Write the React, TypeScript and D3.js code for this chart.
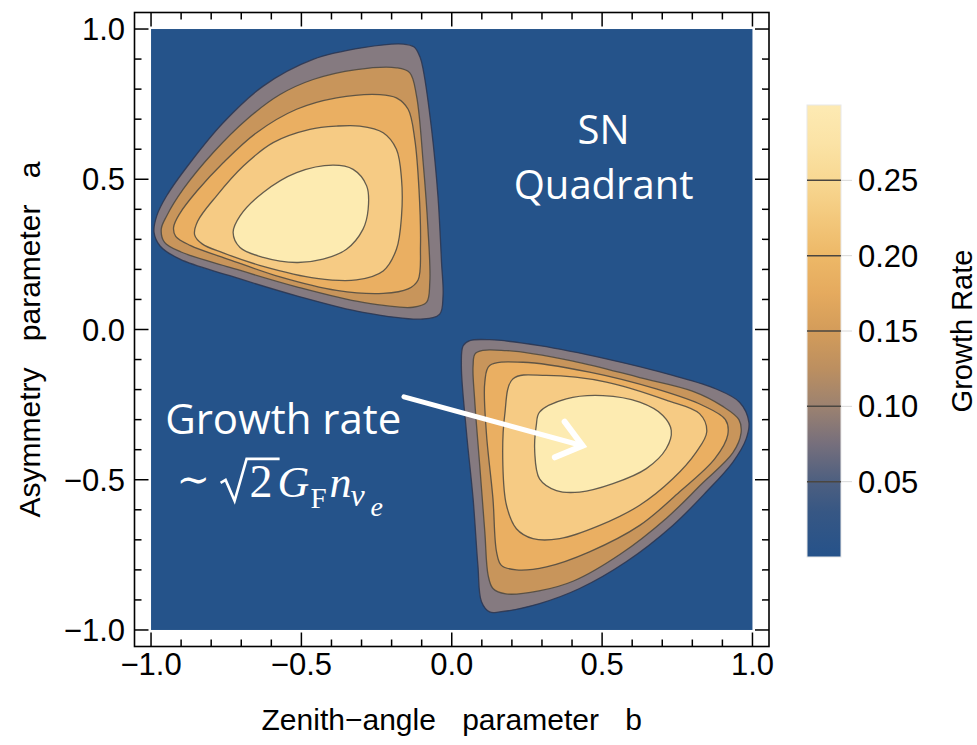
import * as d3 from 'd3'
import { useEffect, useRef } from 'react'

// contour levels of the growth rate and the colour of the band above each level
const levels = [0.05, 0.1, 0.15, 0.2, 0.25]
const bandColors = ['#857A80', '#C8955B', '#EAAF62', '#F6CB84', '#FDEBB1']
const baseColor = '#25538A'

// colour bar gradient (value, colour)
const barValues = [0, 0.03, 0.05, 0.075, 0.1, 0.125, 0.15, 0.175, 0.2, 0.225, 0.25, 0.275, 0.3]
const barColors = ['#25528A', '#375784', '#4D5F80', '#766F7C', '#9C8270', '#BC8F60', '#D39C5A', '#E5AA5E', '#EDB867', '#F3C87C', '#F8D892', '#FBE3A6', '#FDEAB3']
const barTicks = [0.05, 0.1, 0.15, 0.2, 0.25]

const axisTicks = [-1, -0.5, 0, 0.5, 1]

// contour outlines [b, a], one ring per level
const upperLeft = [
  [[-0.295, 0.938], [-0.162, 0.95], [-0.125, 0.94], [-0.105, 0.905], [-0.095, 0.865], [-0.067, 0.666], [-0.046, 0.445], [-0.034, 0.223], [-0.029, 0.112], [-0.04, 0.051], [-0.095, 0.035], [-0.295, 0.057], [-0.516, 0.112], [-0.738, 0.179], [-0.904, 0.234], [-0.97, 0.278], [-0.99, 0.323], [-0.981, 0.378], [-0.948, 0.445], [-0.87, 0.555], [-0.76, 0.688], [-0.627, 0.81], [-0.461, 0.899]],
  [[-0.317, 0.865], [-0.184, 0.871], [-0.14, 0.855], [-0.117, 0.777], [-0.095, 0.555], [-0.079, 0.334], [-0.073, 0.157], [-0.084, 0.09], [-0.129, 0.074], [-0.295, 0.09], [-0.516, 0.142], [-0.738, 0.207], [-0.9, 0.258], [-0.955, 0.29], [-0.966, 0.334], [-0.948, 0.378], [-0.893, 0.467], [-0.793, 0.589], [-0.682, 0.699], [-0.571, 0.782], [-0.461, 0.832]],
  [[-0.383, 0.771], [-0.239, 0.782], [-0.184, 0.771], [-0.145, 0.733], [-0.123, 0.633], [-0.109, 0.467], [-0.104, 0.278], [-0.112, 0.165], [-0.145, 0.135], [-0.228, 0.12], [-0.383, 0.13], [-0.571, 0.175], [-0.738, 0.232], [-0.87, 0.28], [-0.918, 0.31], [-0.925, 0.34], [-0.905, 0.385], [-0.848, 0.46], [-0.76, 0.555], [-0.649, 0.655], [-0.516, 0.733]],
  [[-0.383, 0.677], [-0.306, 0.677], [-0.228, 0.655], [-0.184, 0.6], [-0.167, 0.5], [-0.167, 0.378], [-0.184, 0.267], [-0.228, 0.195], [-0.317, 0.165], [-0.449, 0.17], [-0.627, 0.21], [-0.76, 0.255], [-0.83, 0.285], [-0.855, 0.315], [-0.845, 0.36], [-0.782, 0.445], [-0.693, 0.544], [-0.594, 0.622], [-0.472, 0.666]],
  [[-0.394, 0.547], [-0.328, 0.533], [-0.283, 0.478], [-0.278, 0.4], [-0.295, 0.334], [-0.35, 0.267], [-0.428, 0.234], [-0.516, 0.223], [-0.627, 0.24], [-0.704, 0.273], [-0.727, 0.323], [-0.704, 0.378], [-0.627, 0.456], [-0.516, 0.522]],
]

const lowerRight = [
  [[0.06, -0.037], [0.126, -0.034], [0.292, -0.054], [0.514, -0.098], [0.735, -0.153], [0.879, -0.198], [0.957, -0.242], [0.988, -0.308], [0.979, -0.364], [0.935, -0.441], [0.846, -0.541], [0.735, -0.652], [0.58, -0.773], [0.425, -0.862], [0.292, -0.912], [0.159, -0.94], [0.126, -0.94], [0.099, -0.906], [0.087, -0.785], [0.071, -0.563], [0.049, -0.342], [0.032, -0.12], [0.038, -0.054]],
  [[0.08, -0.078], [0.182, -0.07], [0.403, -0.105], [0.625, -0.16], [0.8, -0.205], [0.9, -0.255], [0.955, -0.3], [0.962, -0.345], [0.935, -0.41], [0.83, -0.515], [0.715, -0.627], [0.56, -0.748], [0.405, -0.837], [0.29, -0.87], [0.18, -0.88], [0.137, -0.862], [0.121, -0.818], [0.11, -0.674], [0.093, -0.452], [0.076, -0.231], [0.071, -0.12]],
  [[0.126, -0.12], [0.237, -0.109], [0.458, -0.142], [0.68, -0.198], [0.835, -0.253], [0.91, -0.3], [0.918, -0.35], [0.875, -0.43], [0.757, -0.541], [0.625, -0.652], [0.458, -0.74], [0.315, -0.79], [0.215, -0.8], [0.165, -0.785], [0.149, -0.74], [0.137, -0.563], [0.115, -0.342], [0.11, -0.175]],
  [[0.204, -0.164], [0.315, -0.153], [0.514, -0.175], [0.713, -0.235], [0.824, -0.28], [0.848, -0.34], [0.813, -0.408], [0.735, -0.497], [0.625, -0.585], [0.492, -0.652], [0.359, -0.696], [0.27, -0.696], [0.215, -0.663], [0.182, -0.585], [0.17, -0.452], [0.176, -0.286]],
  [[0.292, -0.275], [0.381, -0.231], [0.503, -0.22], [0.625, -0.242], [0.702, -0.286], [0.73, -0.336], [0.713, -0.397], [0.647, -0.463], [0.536, -0.513], [0.425, -0.541], [0.348, -0.536], [0.292, -0.497], [0.276, -0.408], [0.281, -0.32]],
]

const axisFont = "'Liberation Sans', Arial, sans-serif"
const noteFont = "'Open Sans', 'Noto Sans', sans-serif"
const mathFont = "'Liberation Serif', 'DejaVu Serif', serif"

const fmt = (v: number) => d3.format('.1f')(v).replace('-', '\u2212')

export default function App() {
  const ref = useRef<SVGSVGElement>(null)

  useEffect(() => {
    document.body.style.margin = '0'
    const svg = d3.select(ref.current)
    svg.selectAll('*').remove()

    const x = d3.scaleLinear().domain([-1.055, 1.055]).range([134.5, 769])
    const y = d3.scaleLinear().domain([-1.055, 1.055]).range([646.5, 12.5])

    // plot area
    svg
      .append('rect')
      .attr('x', x(-1))
      .attr('y', y(1))
      .attr('width', x(1) - x(-1))
      .attr('height', y(-1) - y(1))
      .attr('fill', baseColor)

    const ring = d3
      .line<number[]>()
      .x((d) => x(d[0]))
      .y((d) => y(d[1]))
      .curve(d3.curveCatmullRomClosed.alpha(0.5))

    const blobs = [upperLeft, lowerRight]
    blobs.forEach((blob) => {
      svg
        .append('g')
        .selectAll('path')
        .data(blob)
        .join('path')
        .attr('d', (d) => ring(d))
        .attr('fill', (d, i) => bandColors[i])
        .attr('stroke', (d, i) => (i === 0 ? '#2a3550' : '#4a4640'))
        .attr('stroke-width', 1.3)
        .attr('stroke-opacity', 0.85)
    })

    // frame with inward ticks
    svg
      .append('rect')
      .attr('x', 134.5)
      .attr('y', 12.5)
      .attr('width', 769 - 134.5)
      .attr('height', 646.5 - 12.5)
      .attr('fill', 'none')
      .attr('stroke', '#000')
      .attr('stroke-width', 1.6)

    const minor = d3.range(-10, 11).map((i) => i / 10)
    const ticks = svg.append('g').attr('stroke', '#000').attr('stroke-width', 1.5)
    minor.forEach((v) => {
      const len = Math.abs(v * 2 - Math.round(v * 2)) < 1e-6 ? 14 : 7
      ticks.append('line').attr('x1', x(v)).attr('x2', x(v)).attr('y1', 646.5).attr('y2', 646.5 - len)
      ticks.append('line').attr('x1', x(v)).attr('x2', x(v)).attr('y1', 12.5).attr('y2', 12.5 + len)
      ticks.append('line').attr('y1', y(v)).attr('y2', y(v)).attr('x1', 134.5).attr('x2', 134.5 + len)
      ticks.append('line').attr('y1', y(v)).attr('y2', y(v)).attr('x1', 769).attr('x2', 769 - len)
    })

    svg
      .append('g')
      .selectAll('text')
      .data(axisTicks)
      .join('text')
      .attr('x', (d) => x(d))
      .attr('y', 675)
      .attr('text-anchor', 'middle')
      .style('font-family', axisFont)
      .style('font-size', '31px')
      .text((d) => fmt(d))

    svg
      .append('g')
      .selectAll('text')
      .data(axisTicks)
      .join('text')
      .attr('x', 125)
      .attr('y', (d) => y(d))
      .attr('dy', '0.36em')
      .attr('text-anchor', 'end')
      .style('font-family', axisFont)
      .style('font-size', '31px')
      .text((d) => fmt(d))

    // axis labels
    svg
      .append('text')
      .attr('x', x(0))
      .attr('y', 730)
      .attr('text-anchor', 'middle')
      .style('font-family', axisFont)
      .style('font-size', '30px')
      .style('word-spacing', '18px')
      .text('Zenith\u2212angle parameter b')

    svg
      .append('text')
      .attr('transform', `translate(40, ${y(0) + 10}) rotate(-90)`)
      .attr('text-anchor', 'middle')
      .style('font-family', axisFont)
      .style('font-size', '30px')
      .style('word-spacing', '18px')
      .text('Asymmetry parameter a')

    // colour bar
    const c = d3.scaleLinear().domain([0, 0.3]).range([557, 105])
    const grad = svg
      .append('defs')
      .append('linearGradient')
      .attr('id', 'bar')
      .attr('x1', 0)
      .attr('x2', 0)
      .attr('y1', 1)
      .attr('y2', 0)
    barValues.forEach((v, i) => {
      grad
        .append('stop')
        .attr('offset', v / 0.3)
        .attr('stop-color', barColors[i])
    })
    svg
      .append('rect')
      .attr('x', 807)
      .attr('y', c(0.3))
      .attr('width', 34)
      .attr('height', c(0) - c(0.3))
      .attr('fill', 'url(#bar)')
      .attr('stroke', '#e8e8e8')
      .attr('stroke-width', 1)

    svg
      .append('g')
      .selectAll('line')
      .data(levels)
      .join('line')
      .attr('x1', 807)
      .attr('x2', 841)
      .attr('y1', (d) => c(d))
      .attr('y2', (d) => c(d))
      .attr('stroke', '#4a4640')
      .attr('stroke-width', 1.5)

    svg
      .append('g')
      .selectAll('line')
      .data(barTicks)
      .join('line')
      .attr('x1', 841)
      .attr('x2', 852)
      .attr('y1', (d) => c(d))
      .attr('y2', (d) => c(d))
      .attr('stroke', '#d8d8d8')
      .attr('stroke-width', 1)

    svg
      .append('g')
      .selectAll('text')
      .data(barTicks)
      .join('text')
      .attr('x', 858)
      .attr('y', (d) => c(d))
      .attr('dy', '0.36em')
      .style('font-family', axisFont)
      .style('font-size', '31px')
      .text((d) => d3.format('.2f')(d))

    svg
      .append('text')
      .attr('transform', `translate(972, ${c(0.15)}) rotate(-90)`)
      .attr('text-anchor', 'middle')
      .style('font-family', axisFont)
      .style('font-size', '29px')
      .text('Growth Rate')

    // annotations
    const note = svg.append('g').attr('fill', '#fff').style('font-family', noteFont)
    note
      .append('text')
      .attr('x', x(0.505))
      .attr('y', y(0.616))
      .attr('text-anchor', 'middle')
      .style('font-size', '40px')
      .text('SN')
    note
      .append('text')
      .attr('x', x(0.505))
      .attr('y', y(0.434))
      .attr('text-anchor', 'middle')
      .style('font-size', '40px')
      .text('Quadrant')
    note
      .append('text')
      .attr('x', x(-0.953))
      .attr('y', y(-0.347))
      .style('font-size', '42px')
      .text('Growth rate')

    // ~ sqrt(2) G_F n_{nu_e}
    const fx = x(-0.915)
    const fy = y(-0.557)
    const m = svg.append('g').attr('fill', '#fff').style('font-family', mathFont)
    m.append('text').attr('x', fx).attr('y', fy - 4).style('font-size', '40px').text('\u223C')
    m.append('path')
      .attr('d', `M${fx + 44},${fy - 14} L${fx + 49},${fy - 17} L${fx + 58},${fy + 4} L${fx + 70},${fy - 38} L${fx + 103},${fy - 38}`)
      .attr('fill', 'none')
      .attr('stroke', '#fff')
      .attr('stroke-width', 2.6)
      .attr('stroke-linejoin', 'miter')
    m.append('text').attr('x', fx + 73).attr('y', fy).style('font-size', '46px').text('2')
    m.append('text').attr('x', fx + 101).attr('y', fy).style('font-size', '44px').style('font-style', 'italic').text('G')
    m.append('text').attr('x', fx + 134).attr('y', fy + 11).style('font-size', '29px').text('F')
    m.append('text').attr('x', fx + 153).attr('y', fy).style('font-size', '44px').style('font-style', 'italic').text('n')
    m.append('text').attr('x', fx + 174).attr('y', fy + 9).style('font-size', '32px').style('font-style', 'italic').text('\u03BD')
    m.append('text').attr('x', fx + 194).attr('y', fy + 19).style('font-size', '28px').style('font-style', 'italic').text('e')

    // arrow
    const x0 = x(-0.159)
    const y0 = y(-0.224)
    const x1 = x(0.435)
    const y1 = y(-0.387)
    const ang = Math.atan2(y1 - y0, x1 - x0)
    const arm = 30
    const spread = (38 * Math.PI) / 180
    const arrow = svg
      .append('g')
      .attr('stroke', '#fff')
      .attr('stroke-width', 5)
      .attr('stroke-linecap', 'round')
      .attr('fill', 'none')
    arrow.append('line').attr('x1', x0).attr('y1', y0).attr('x2', x1).attr('y2', y1)
    arrow
      .append('path')
      .attr('d', `M${x1 - arm * Math.cos(ang - spread)},${y1 - arm * Math.sin(ang - spread)} L${x1},${y1} L${x1 - arm * Math.cos(ang + spread)},${y1 - arm * Math.sin(ang + spread)}`)
      .attr('stroke-width', 6)
      .attr('stroke-linejoin', 'miter')
  }, [])

  return <svg ref={ref} width={977} height={745} style={{ display: 'block' }} />
}
